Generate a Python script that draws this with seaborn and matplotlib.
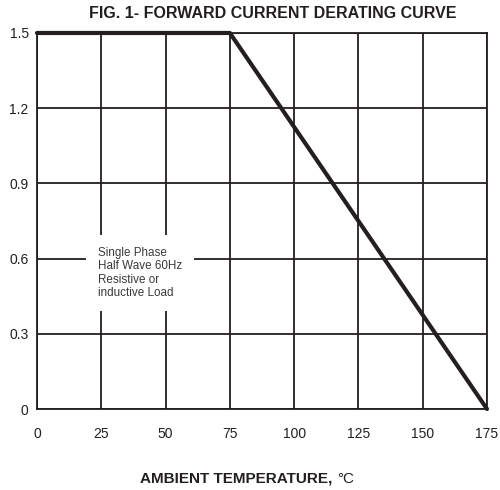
import matplotlib
matplotlib.use("Agg")
import matplotlib.pyplot as plt
import seaborn as sns
import pandas as pd

# derating curve
temps = [0, 75, 175]
current = [1.5, 1.5, 0.0]
x_ticks = [0, 25, 50, 75, 100, 125, 150, 175]
y_ticks = [0, 0.3, 0.6, 0.9, 1.2, 1.5]
y_labels = ["0", "0.3", "0.6", "0.9", "1.2", "1.5"]
note = "Single Phase\nHalf Wave 60Hz\nResistive or\ninductive Load"

ink = "#231f20"

sns.set_style("white")
plt.rcParams["font.family"] = ["Liberation Sans", "DejaVu Sans"]

df = pd.DataFrame({"temp": temps, "amps": current})

fig = plt.figure(figsize=(5, 4.9), dpi=100)
ax = fig.add_axes([0.074, 0.1653, 0.9, 0.7674])

sns.lineplot(data=df, x="temp", y="amps", color=ink, linewidth=3,
             ax=ax, zorder=5, clip_on=False)

ax.set_xlim(0, 175)
ax.set_ylim(0, 1.5)
ax.set_xticks(x_ticks)
ax.set_xticklabels([str(t) for t in x_ticks])
ax.set_yticks(y_ticks)
ax.set_yticklabels(y_labels)
ax.tick_params(axis="x", length=0, pad=13, labelsize=10, colors=ink)
ax.tick_params(axis="y", length=0, pad=6, labelsize=10, colors=ink)
ax.grid(True, color=ink, linewidth=1.3)
for s in ax.spines.values():
    s.set_color(ink)
    s.set_linewidth(1.3)
ax.set_xlabel("")
ax.set_ylabel("")

# note box hides the grid behind it
ax.text(23.7, 0.5426, note, fontsize=8.4, color="#3a3a3a", va="center",
        ha="left", linespacing=1.15, zorder=4,
        bbox=dict(boxstyle="square,pad=1.0", facecolor="white",
                  edgecolor="none"))

fig.text(0.546, 0.963, "FIG. 1- FORWARD CURRENT DERATING CURVE",
         fontsize=11.5, fontweight="bold", color=ink, ha="center",
         va="baseline")

lab = fig.text(0.28, 0.0143, "AMBIENT TEMPERATURE, ", fontsize=11,
               fontweight="bold", color=ink, ha="left", va="baseline")
ax.annotate("°C", xy=(1, 0), xycoords=lab, fontsize=11, color=ink,
            ha="left", va="bottom", annotation_clip=False)

fig.savefig("out.png", dpi=100)
